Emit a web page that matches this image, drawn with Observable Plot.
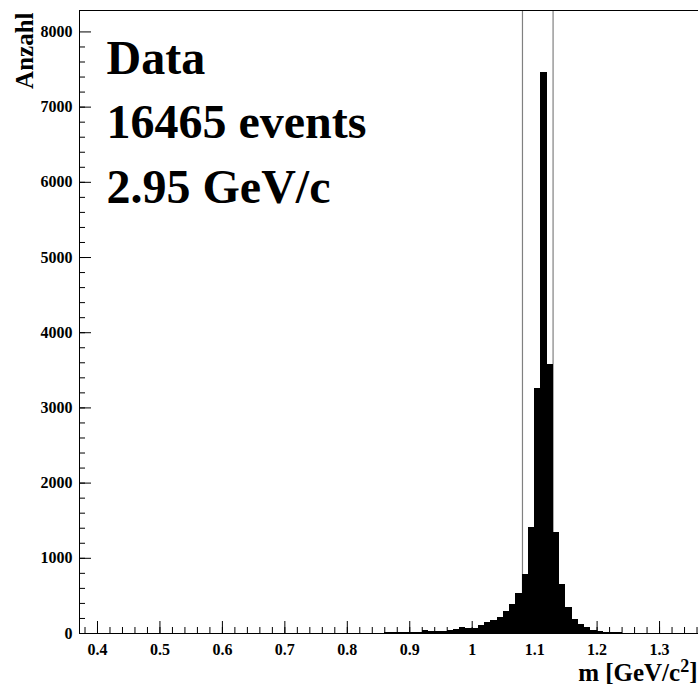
<!DOCTYPE html>
<html><head><meta charset="utf-8">
<script src="https://cdn.jsdelivr.net/npm/d3@7"></script>
<script src="https://cdn.jsdelivr.net/npm/@observablehq/plot@0.6"></script>
<style>
html,body{margin:0;padding:0;background:#fff;overflow:hidden;}
#chart{width:698px;height:687px;overflow:hidden;}
#chart svg{max-width:none !important;height:687px !important;width:702px !important;}
</style></head><body><div id="chart"></div>
<script>
// histogram bins (lower edge, GeV/c^2) and counts
const binLow = [0.80,0.81,0.82,0.83,0.84,0.85,0.86,0.87,0.88,0.89,
  0.90,0.91,0.92,0.93,0.94,0.95,0.96,0.97,0.98,0.99,
  1.00,1.01,1.02,1.03,1.04,1.05,1.06,1.07,1.08,1.09,
  1.10,1.11,1.12,1.13,1.14,1.15,1.16,1.17,1.18,1.19,
  1.20,1.21,1.22,1.23,1.24,1.25,1.26,1.27,1.28,1.29,1.30,1.31];
const counts = [2,3,3,4,5,6,12,14,15,16,
  18,18,34,26,27,30,46,58,80,60,
  64,106,148,178,208,289,385,533,782,1404,
  3255,7460,3581,1338,651,341,190,115,80,44,
  27,17,10,7,5,4,3,3,2,2,1,1];
const binWidth = 0.01;
const cutLines = [1.0805, 1.1295];
const xMajorTicks = [0.4,0.5,0.6,0.7,0.8,0.9,1.0,1.1,1.2,1.3];
const xTickLabels = ["0.4","0.5","0.6","0.7","0.8","0.9","1","1.1","1.2","1.3"];
const xMinorTicks = d3.range(19,69).map(i => i * 0.02);
const yMajorTicks = [0,1000,2000,3000,4000,5000,6000,7000,8000];
const yTickLabels = ["0","1000","2000","3000","4000","5000","6000","7000","8000"];
const yMinorTicks = d3.range(1,40).map(i => i * 200);
const yLabel = "Anzahl";
const xLabelMain = "m [GeV/c", xLabelSup = "2", xLabelEnd = "]";
const infoLines = ["Data", "16465 events", "2.95 GeV/c"];

const bins = binLow.map((lo, i) => ({lo, hi: lo + binWidth, n: counts[i]}));
const serif = "'Liberation Serif','Times New Roman',serif";

const W = 702, H = 687, mL = 79, mR = 1, mT = 10, mB = 54;
const frameW = W - mL - mR, frameH = H - mT - mB;
const majorLen = 12, minorLen = 6;

const chart = Plot.plot({
  width: W, height: H,
  marginLeft: mL, marginRight: mR, marginTop: mT, marginBottom: mB,
  x: {domain: [0.37118, 1.36717], axis: null},
  y: {domain: [0, 8285], axis: null},
  style: {background: "white", fontFamily: serif},
  marks: [
    Plot.ruleX(cutLines, {x: d => d, stroke: "#808080", strokeWidth: 1.2}),
    Plot.rectY(bins, {x1: "lo", x2: "hi", y: "n", fill: "black", inset: 0, shapeRendering: "crispEdges"}),
    Plot.frame({stroke: "black", strokeWidth: 1}),
    Plot.ruleX(xMinorTicks, {x: d => d, insetTop: frameH - minorLen, stroke: "black"}),
    Plot.ruleX(xMajorTicks, {x: d => d, insetTop: frameH - majorLen, stroke: "black"}),
    Plot.ruleY(yMinorTicks, {y: d => d, insetRight: frameW - minorLen, stroke: "black"}),
    Plot.ruleY(yMajorTicks, {y: d => d, insetRight: frameW - majorLen, stroke: "black"}),
    Plot.axisX(xMajorTicks, {tickSize: 0, tickPadding: 10, tickFormat: d => xTickLabels[xMajorTicks.indexOf(d)],
      label: null, fontSize: 16, fontWeight: "bold", fontFamily: serif, fill: "black"}),
    Plot.axisY(yMajorTicks, {tickSize: 0, tickPadding: 7, tickFormat: d => yTickLabels[yMajorTicks.indexOf(d)],
      label: null, fontSize: 16, fontWeight: "bold", fontFamily: serif, fill: "black"}),
    Plot.text([yLabel], {text: d => d, frameAnchor: "top-left", rotate: -90, textAnchor: "end",
      lineAnchor: "middle", dx: -55, dy: 2, fontSize: 25, fontWeight: "bold", fontFamily: serif, fill: "black"}),
    Plot.text([xLabelMain + xLabelSup + xLabelEnd], {text: d => d, frameAnchor: "bottom-right", textAnchor: "end",
      lineAnchor: "bottom", dx: -4, dy: 47, fontSize: 25, fontWeight: "bold", fontFamily: serif, fill: "black",
      className: "xlabel"}),
    Plot.text([infoLines.join("\n")], {text: d => d, frameAnchor: "top-left", textAnchor: "start",
      lineAnchor: "top", lineHeight: 1.34, dx: 27, dy: 18, fontSize: 48, fontWeight: "bold", fontFamily: serif, fill: "black"})
  ]
});
document.getElementById("chart").appendChild(chart);
// rebuild x label with a real superscript
const t = d3.select(chart).select("g.xlabel text");
if (!t.empty()) {
  t.text(null);
  t.append("tspan").text(xLabelMain);
  t.append("tspan").attr("dy", "-0.45em").attr("font-size", "0.72em").text(xLabelSup);
  t.append("tspan").attr("dy", "0.32em").text(xLabelEnd);
}
</script>
</body></html>
